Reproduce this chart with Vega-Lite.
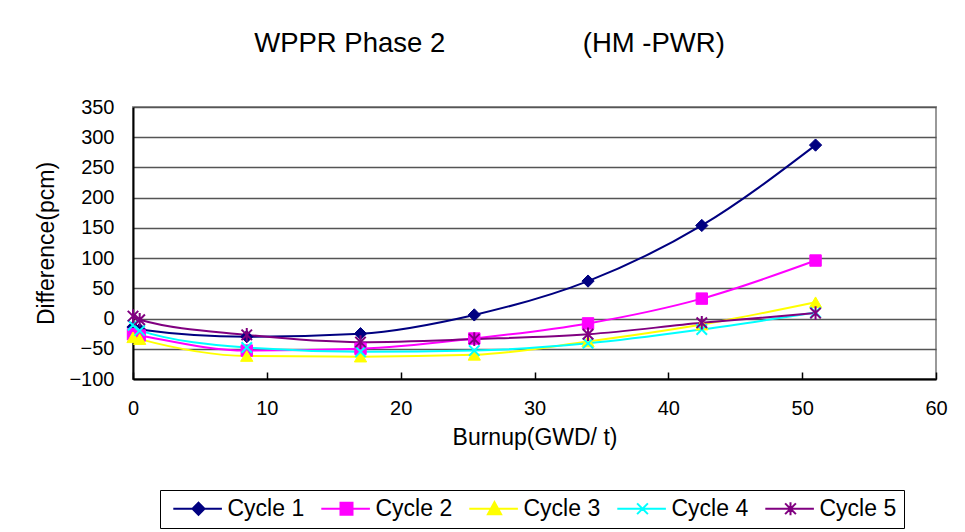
{
  "$schema": "https://vega.github.io/schema/vega-lite/v6.json",
  "width": 803,
  "height": 272,
  "autosize": {"type": "none"},
  "padding": {"left": 133, "top": 107, "right": 29, "bottom": 153},
  "background": "white",
  "config": {
    "view": {"stroke": "#999999", "strokeWidth": 2},
    "font": "Liberation Sans",
    "legend": {
      "orient": "none", "legendX": 27, "legendY": 383, "direction": "horizontal", "columns": 5, "columnPadding": 10,
      "padding": 7, "strokeColor": "black", "fillColor": "white",
      "labelFont": "Liberation Sans", "labelFontSize": 23, "labelColor": "black", "labelOffset": 17.5, "labelLimit": 300,
      "symbolSize": 144, "symbolOffset": 20, "symbolStrokeWidth": 2, "symbolOpacity": 1
    }
  },
  "title": {
    "text": "WPPR Phase 2\u00a0\u00a0\u00a0\u00a0\u00a0\u00a0\u00a0\u00a0\u00a0\u00a0\u00a0\u00a0\u00a0\u00a0\u00a0\u00a0\u00a0\u00a0(HM -PWR)",
    "font": "Liberation Sans",
    "fontSize": 27.5,
    "fontWeight": "normal",
    "color": "black",
    "anchor": "middle",
    "dx": -45,
    "offset": 18,
    "baseline": "alphabetic"
  },
  "data": {
    "values": [
      {"series": "Cycle 1", "burnup": 0, "diff": -14},
      {"series": "Cycle 1", "burnup": 0.5, "diff": -18},
      {"series": "Cycle 1", "burnup": 8.5, "diff": -30},
      {"series": "Cycle 1", "burnup": 17, "diff": -25},
      {"series": "Cycle 1", "burnup": 25.5, "diff": 6},
      {"series": "Cycle 1", "burnup": 34, "diff": 62},
      {"series": "Cycle 1", "burnup": 42.5, "diff": 154},
      {"series": "Cycle 1", "burnup": 51, "diff": 287},
      {"series": "Cycle 2", "burnup": 0, "diff": -26},
      {"series": "Cycle 2", "burnup": 0.5, "diff": -28},
      {"series": "Cycle 2", "burnup": 8.5, "diff": -53},
      {"series": "Cycle 2", "burnup": 17, "diff": -50},
      {"series": "Cycle 2", "burnup": 25.5, "diff": -33},
      {"series": "Cycle 2", "burnup": 34, "diff": -8},
      {"series": "Cycle 2", "burnup": 42.5, "diff": 33},
      {"series": "Cycle 2", "burnup": 51, "diff": 96},
      {"series": "Cycle 3", "burnup": 0, "diff": -31},
      {"series": "Cycle 3", "burnup": 0.5, "diff": -34},
      {"series": "Cycle 3", "burnup": 8.5, "diff": -62},
      {"series": "Cycle 3", "burnup": 17, "diff": -63},
      {"series": "Cycle 3", "burnup": 25.5, "diff": -60},
      {"series": "Cycle 3", "burnup": 34, "diff": -38},
      {"series": "Cycle 3", "burnup": 42.5, "diff": -10},
      {"series": "Cycle 3", "burnup": 51, "diff": 27},
      {"series": "Cycle 4", "burnup": 0, "diff": -11},
      {"series": "Cycle 4", "burnup": 0.5, "diff": -20},
      {"series": "Cycle 4", "burnup": 8.5, "diff": -48},
      {"series": "Cycle 4", "burnup": 17, "diff": -55},
      {"series": "Cycle 4", "burnup": 25.5, "diff": -53},
      {"series": "Cycle 4", "burnup": 34, "diff": -41},
      {"series": "Cycle 4", "burnup": 42.5, "diff": -18},
      {"series": "Cycle 4", "burnup": 51, "diff": 10},
      {"series": "Cycle 5", "burnup": 0, "diff": 4},
      {"series": "Cycle 5", "burnup": 0.5, "diff": -2},
      {"series": "Cycle 5", "burnup": 8.5, "diff": -27},
      {"series": "Cycle 5", "burnup": 17, "diff": -39},
      {"series": "Cycle 5", "burnup": 25.5, "diff": -34},
      {"series": "Cycle 5", "burnup": 34, "diff": -26},
      {"series": "Cycle 5", "burnup": 42.5, "diff": -7},
      {"series": "Cycle 5", "burnup": 51, "diff": 9}
    ]
  },
  "encoding": {
    "x": {
      "field": "burnup",
      "type": "quantitative",
      "scale": {"domain": [0, 60], "nice": false, "zero": false},
      "axis": {
        "title": "Burnup(GWD/ t)",
        "titleFont": "Liberation Sans",
        "titleFontSize": 23,
        "titleFontWeight": "normal",
        "titleColor": "black",
        "titlePadding": 8,
        "values": [0, 10, 20, 30, 40, 50, 60],
        "labelFont": "Liberation Sans",
        "labelFontSize": 20,
        "labelColor": "black",
        "labelPadding": 26,
        "labelFlush": false,
        "labelOverlap": false,
        "grid": false,
        "ticks": true,
        "tickSize": -7,
        "tickColor": "black",
        "tickWidth": 1.5,
        "domainColor": "black",
        "domainWidth": 2
      }
    },
    "y": {
      "field": "diff",
      "type": "quantitative",
      "scale": {"domain": [-100, 350], "nice": false, "zero": false},
      "axis": {
        "title": "Difference(pcm)",
        "titleFont": "Liberation Sans",
        "titleFontSize": 23,
        "titleFontWeight": "normal",
        "titleColor": "black",
        "titlePadding": 10,
        "values": [-100, -50, 0, 50, 100, 150, 200, 250, 300, 350],
        "labelFont": "Liberation Sans",
        "labelFontSize": 20,
        "labelColor": "black",
        "labelPadding": 19,
        "labelOverlap": false,
        "ticks": false,
        "grid": true,
        "gridColor": "#555555",
        "gridWidth": 1.3,
        "domainColor": "black",
        "domainWidth": 2
      }
    },
    "color": {
      "field": "series",
      "type": "nominal",
      "title": null,
      "scale": {"domain": ["Cycle 1", "Cycle 2", "Cycle 3", "Cycle 4", "Cycle 5"], "range": ["#000080", "#FF00FF", "#FFFF00", "#00FFFF", "#800080"]}
    }
  },
  "layer": [
    {
      "mark": {"type": "line", "interpolate": "monotone", "strokeWidth": 2}
    },
    {
      "transform": [{"filter": "datum.series == 'Cycle 1'"}],
      "mark": {"type": "point", "shape": "diamond", "filled": true, "size": 150, "opacity": 1, "stroke": "#000080", "strokeWidth": 1}
    },
    {
      "transform": [{"filter": "datum.series == 'Cycle 2'"}],
      "mark": {"type": "point", "shape": "square", "filled": true, "size": 130, "opacity": 1, "stroke": "#FF00FF", "strokeWidth": 1}
    },
    {
      "transform": [{"filter": "datum.series == 'Cycle 3'"}],
      "mark": {"type": "point", "shape": "triangle-up", "filled": true, "size": 150, "opacity": 1, "stroke": "#FFFF00", "strokeWidth": 1}
    },
    {
      "transform": [{"filter": "datum.series == 'Cycle 4'"}],
      "mark": {"type": "point", "shape": "M-1,-1L1,1M-1,1L1,-1", "filled": true, "size": 110, "opacity": 1, "stroke": "#00FFFF", "strokeWidth": 2}
    },
    {
      "transform": [{"filter": "datum.series == 'Cycle 5'"}],
      "mark": {"type": "point", "shape": "M-1,-1L1,1M-1,1L1,-1M0,-1.3L0,1.3", "filled": true, "size": 110, "opacity": 1, "stroke": "#800080", "strokeWidth": 2}
    },
    {
      "mark": {"type": "point", "filled": true, "size": 10, "opacity": 0},
      "encoding": {
        "stroke": {
          "field": "series",
          "type": "nominal",
          "title": null,
          "scale": {"domain": ["Cycle 1", "Cycle 2", "Cycle 3", "Cycle 4", "Cycle 5"], "range": ["#000080", "#FF00FF", "#FFFF00", "#00FFFF", "#800080"]}
        },
        "shape": {
          "field": "series",
          "type": "nominal",
          "title": null,
          "scale": {
            "domain": ["Cycle 1", "Cycle 2", "Cycle 3", "Cycle 4", "Cycle 5"],
            "range": [
              "M-4.2,0L3.9,0M0,-1L1,0L0,1L-1,0Z",
              "M-4.2,0L3.9,0M-1,-1L1,-1L1,1L-1,1Z",
              "M-4.2,0L3.9,0M0,-1.1L1.1,0.9L-1.1,0.9Z",
              "M-4.2,0L3.9,0M-0.9,-0.9L0.9,0.9M-0.9,0.9L0.9,-0.9",
              "M-4.2,0L3.9,0M-0.9,-0.9L0.9,0.9M-0.9,0.9L0.9,-0.9M0,-1.1L0,1.1"
            ]
          }
        }
      }
    }
  ]
}
